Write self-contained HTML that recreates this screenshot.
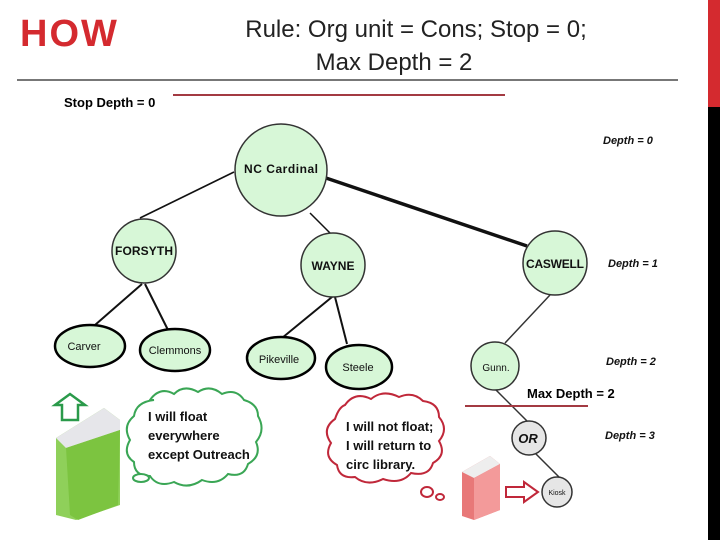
<!DOCTYPE html>
<html><head><style>
html,body{margin:0;padding:0;width:720px;height:540px;overflow:hidden;background:#fff}
svg{display:block}
text{font-family:"Liberation Sans",sans-serif}
</style></head><body>
<svg width="720" height="540" viewBox="0 0 720 540">
<rect x="708" y="0" width="12" height="107" fill="#d42a2f"/>
<rect x="708" y="107" width="12" height="433" fill="#000"/>
<text x="20" y="46" font-size="38" font-weight="bold" fill="#d42a2f" letter-spacing="2">HOW</text>
<text x="416" y="37" font-size="24" text-anchor="middle" fill="#222">Rule: Org unit = Cons; Stop = 0;</text>
<text x="394" y="70" font-size="24" text-anchor="middle" fill="#222">Max Depth = 2</text>
<line x1="17" y1="80" x2="678" y2="80" stroke="#777" stroke-width="2"/>
<line x1="173" y1="95" x2="505" y2="95" stroke="#a33a42" stroke-width="2"/>
<text x="64" y="107" font-size="13" font-weight="bold">Stop Depth = 0</text>
<g stroke="#111" stroke-width="2" fill="none">
<line x1="234" y1="172" x2="140" y2="218" stroke-width="1.6"/>
<line x1="310" y1="213" x2="330" y2="233" stroke-width="1.5"/>
<line x1="326" y1="178" x2="527" y2="246" stroke-width="3.5"/>
<line x1="142" y1="284" x2="95" y2="325"/>
<line x1="145" y1="284" x2="168" y2="330"/>
<line x1="332" y1="297" x2="282" y2="338"/>
<line x1="335" y1="297" x2="347" y2="344"/>
<line x1="550" y1="295" x2="505" y2="343" stroke-width="1.5" stroke="#333"/>
<line x1="496" y1="390" x2="527" y2="421" stroke-width="1.5" stroke="#333"/>
<line x1="536" y1="454" x2="559" y2="477" stroke-width="1.5" stroke="#333"/>
</g>
<g fill="#d7f7d7" stroke="#333" stroke-width="1.5">
<circle cx="281" cy="170" r="46"/>
<circle cx="144" cy="251" r="32"/>
<circle cx="333" cy="265" r="32"/>
<circle cx="555" cy="263" r="32"/>
<circle cx="495" cy="366" r="24"/>
</g>
<g fill="#d7f7d7" stroke="#000" stroke-width="2.5">
<ellipse cx="90" cy="346" rx="35" ry="21"/>
<ellipse cx="175" cy="350" rx="35" ry="21"/>
<ellipse cx="281" cy="358" rx="34" ry="21"/>
<ellipse cx="359" cy="367" rx="33" ry="22"/>
</g>
<g fill="#e6e6e6" stroke="#333" stroke-width="1.5">
<circle cx="529" cy="438" r="17"/>
<circle cx="557" cy="492" r="15"/>
</g>
<g font-size="12" font-weight="bold" text-anchor="middle" fill="#111">
<text x="281" y="173" textLength="74">NC Cardinal</text>
<text x="144" y="255" textLength="58">FORSYTH</text>
<text x="333" y="270">WAYNE</text>
<text x="555" y="268" textLength="58">CASWELL</text>
</g>
<g font-size="11" text-anchor="middle" fill="#111">
<text x="84" y="350">Carver</text>
<text x="175" y="354">Clemmons</text>
<text x="279" y="363">Pikeville</text>
<text x="358" y="371">Steele</text>
<text x="496" y="371" font-size="10">Gunn.</text>
<text x="528" y="443" font-size="13" font-weight="bold" font-style="italic">OR</text>
<text x="557" y="495" font-size="7">Kiosk</text>
</g>
<g font-size="11" font-weight="bold" font-style="italic" fill="#111">
<text x="603" y="144">Depth = 0</text>
<text x="608" y="267">Depth = 1</text>
<text x="606" y="365">Depth = 2</text>
<text x="605" y="439">Depth = 3</text>
</g>
<line x1="465" y1="406" x2="588" y2="406" stroke="#a33a42" stroke-width="2"/>
<text x="527" y="398" font-size="13" font-weight="bold">Max Depth = 2</text>
<!-- green book -->
<path d="M55,405 L70,394 L85,405 L78,405 L78,420 L62,420 L62,405 Z" fill="#fff" stroke="#2a9a4a" stroke-width="2.5"/>
<path d="M56,438 L104,408 L120,420 L120,505 L76,520 L56,515 Z" fill="#8fd05a"/>
<path d="M56,438 L104,408 L120,420 L120,430 L66,448 Z" fill="#e6e6ea"/>
<path d="M66,448 L120,430 L118,505 L78,520 L70,515 Z" fill="#7cc440"/>
<!-- green cloud -->
<path d="M150,400 q10,-14 24,-6 q10,-10 24,-2 q12,-8 24,2 q14,-6 22,6 q14,4 14,16 q8,14 -2,26 q6,14 -8,22 q-4,14 -20,10 q-10,12 -26,6 q-14,10 -28,2 q-16,6 -24,-6 q-16,0 -16,-14 q-12,-8 -4,-22 q-8,-14 4,-24 q2,-14 20,-16 Z" fill="#fff" stroke="#3aa655" stroke-width="2"/>
<ellipse cx="141" cy="478" rx="8" ry="4" fill="#fff" stroke="#3aa655" stroke-width="2"/>
<g font-size="13" font-weight="bold" fill="#111">
<text x="148" y="421">I will float</text>
<text x="148" y="440">everywhere</text>
<text x="148" y="459">except Outreach</text>
</g>
<!-- red cloud -->
<path d="M345,405 q10,-14 26,-6 q12,-10 28,-2 q14,-6 24,4 q16,2 16,16 q10,12 0,24 q8,14 -6,22 q-4,14 -22,10 q-10,12 -28,6 q-16,8 -28,-2 q-16,2 -18,-12 q-14,-8 -6,-22 q-10,-14 4,-24 q4,-12 10,-14 Z" fill="#fff" stroke="#c0283a" stroke-width="2"/>
<ellipse cx="427" cy="492" rx="6" ry="5" fill="#fff" stroke="#c0283a" stroke-width="2"/>
<ellipse cx="440" cy="497" rx="4" ry="3" fill="#fff" stroke="#c0283a" stroke-width="2"/>
<g font-size="13" font-weight="bold" fill="#111">
<text x="346" y="431">I will not float;</text>
<text x="346" y="450">I will return to</text>
<text x="346" y="469">circ library.</text>
</g>
<!-- red book -->
<path d="M462,472 L490,456 L500,464 L500,510 L474,520 L462,516 Z" fill="#e87878"/>
<path d="M462,472 L490,456 L500,464 L474,478 Z" fill="#eee"/>
<path d="M474,478 L500,464 L500,510 L474,520 Z" fill="#f39a9a"/>
<path d="M506,487 L524,487 L524,482 L538,492 L524,502 L524,497 L506,497 Z" fill="#fff" stroke="#c0283a" stroke-width="2"/>
</svg>
</body></html>
